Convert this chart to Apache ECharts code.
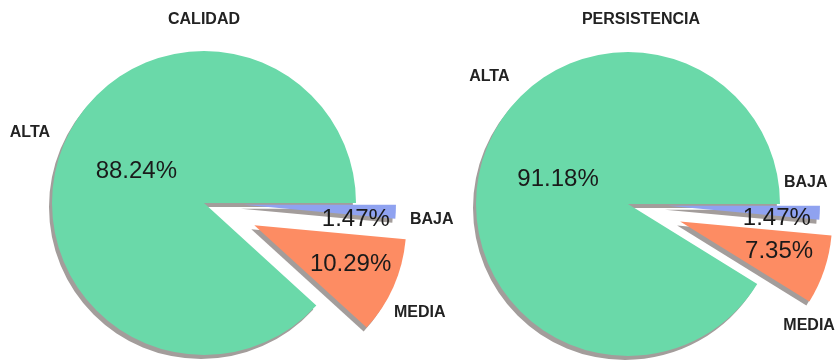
<!DOCTYPE html>
<html>
<head>
<meta charset="utf-8">
<script src="https://cdn.jsdelivr.net/npm/echarts@6/dist/echarts.min.js"></script>
<style>
    html, body { margin: 0; padding: 0; background: #fff; }
    #chart { width: 837px; height: 363px; }
</style>
</head>
<body>
<div id="chart"></div>
<script>
// slice order: counter-clockwise from 3 o'clock
const names = ["ALTA", "MEDIA", "BAJA"];
const calidad = [60, 7, 1];
const persistencia = [62, 5, 1];
const titles = ["CALIDAD", "PERSISTENCIA"];

const colors = ["#6ad9a9", "#fd8c63", "#8fa2f0"];
const R = 152;
const FONT = "Liberation Sans, Arial, sans-serif";

// label nudges [dx, dy] by data index
const pctNudge = [
    [[6, -3], [24, 7], [33, 11]],
    [[6, -3], [24, 5], [30, 9]],
];
const nameNudge = [
    [[4, -1], [41, 32], [37, 8]],
    [[45, -75], [0, 61], [-13, -30]],
];

function sectorSeries(values, center, offset, visible, nudge) {
    return {
        type: "pie",
        center: center,
        radius: R,
        startAngle: 0,
        clockwise: false,
        silent: true,
        selectedMode: "multiple",
        selectedOffset: offset,
        emphasis: { disabled: true },
        labelLine: { show: false },
        label: {
            position: "inside",
            formatter: "{d}%",
            fontFamily: FONT,
            fontSize: 24,
            color: "#1a1a1a",
        },
        labelLayout: (p) => ({ dx: nudge[p.dataIndex][0], dy: nudge[p.dataIndex][1] }),
        data: values.map((v, i) => ({
            name: names[i],
            value: v,
            selected: i !== 0,
            label: { show: visible.includes(i) },
            itemStyle: visible.includes(i)
                ? {
                      color: colors[i],
                      shadowColor: "#a39d9b",
                      shadowBlur: 0,
                      shadowOffsetX: -3,
                      shadowOffsetY: 4,
                  }
                : { color: "rgba(0,0,0,0)" },
        })),
    };
}

function nameSeries(values, center, nudge) {
    return {
        type: "pie",
        center: center,
        radius: [R, R + 72],
        startAngle: 0,
        clockwise: false,
        silent: true,
        emphasis: { disabled: true },
        itemStyle: { color: "rgba(0,0,0,0)" },
        labelLine: { show: false },
        label: {
            position: "inside",
            formatter: "{b}",
            fontFamily: FONT,
            fontWeight: "bold",
            fontSize: 16,
            color: "#222",
        },
        labelLayout: (p) => ({ dx: nudge[p.dataIndex][0], dy: nudge[p.dataIndex][1] }),
        data: values.map((v, i) => ({ name: names[i], value: v })),
    };
}

const centers = [[204, 203], [628, 204]];
const datasets = [calidad, persistencia];

let series = [];
datasets.forEach((vals, k) => {
    series.push(sectorSeries(vals, centers[k], 55, [0, 1], pctNudge[k]));
    series.push(sectorSeries(vals, centers[k], 40, [2], pctNudge[k]));
    series.push(nameSeries(vals, centers[k], nameNudge[k]));
});

let chart = echarts.init(document.getElementById("chart"));
chart.setOption({
    animation: false,
    backgroundColor: "#fff",
    title: titles.map((t, k) => ({
        text: t,
        left: k === 0 ? 204 : 641,
        top: 12,
        padding: 0,
        textAlign: "center",
        textStyle: { fontFamily: FONT, fontSize: 16, fontWeight: "bold", color: "#222" },
    })),
    series: series,
});
</script>
</body>
</html>
